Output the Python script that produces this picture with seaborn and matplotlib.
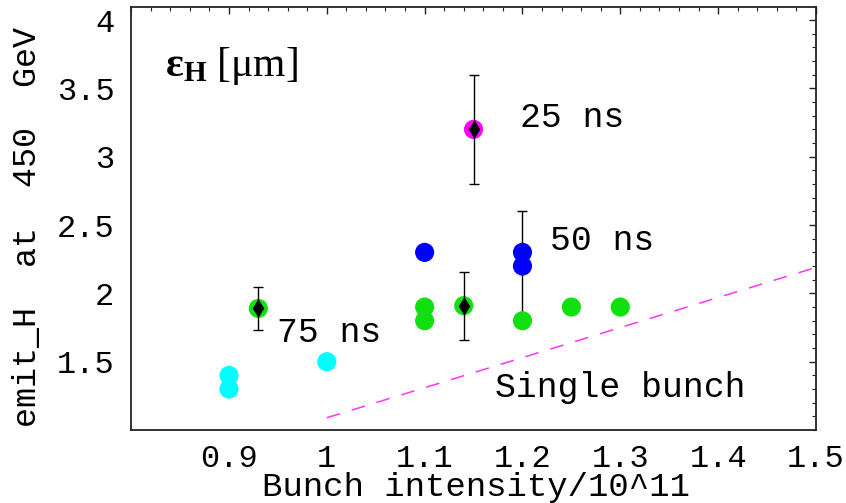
import numpy as np
import pandas as pd
import matplotlib
matplotlib.use("Agg")
import matplotlib.pyplot as plt
import seaborn as sns
from matplotlib.ticker import MultipleLocator, FixedLocator, FuncFormatter

# data
cyan_x = [0.9, 0.9, 1.0]
cyan_y = [1.4, 1.3, 1.5]
green_x = [0.93, 1.1, 1.1, 1.14, 1.2, 1.25, 1.3]
green_y = [1.89, 1.9, 1.8, 1.91, 1.8, 1.9, 1.9]
blue_x = [1.1, 1.2, 1.2]
blue_y = [2.3, 2.3, 2.2]
magenta_x = [1.15]
magenta_y = [3.2]

# error bars (center + symmetric half width)
err_x = [0.93, 1.14, 1.15, 1.2]
err_y = [1.89, 1.91, 3.2, 2.2]
err_half = [0.16, 0.25, 0.4, 0.4]
err_marker = [True, True, True, False]

# single bunch reference line
single_x = [1.0, 1.5]
single_y = [1.09, 2.19]

x_ticks = [0.9, 1.0, 1.1, 1.2, 1.3, 1.4, 1.5]
y_ticks = [1.5, 2.0, 2.5, 3.0, 3.5, 4.0]

sns.set_style("white")
plt.rcParams['font.family'] = ['Liberation Mono', 'DejaVu Sans Mono']
plt.rcParams['mathtext.fontset'] = 'custom'
plt.rcParams['mathtext.rm'] = 'Liberation Serif'
plt.rcParams['mathtext.bf'] = 'Liberation Serif:bold'
plt.rcParams['mathtext.it'] = 'Liberation Serif:italic'

df = pd.DataFrame({
    'intensity': cyan_x + green_x + blue_x + magenta_x,
    'emit': cyan_y + green_y + blue_y + magenta_y,
    'spacing': ['75 ns'] * len(cyan_x) + ['50 ns green'] * len(green_x)
               + ['50 ns'] * len(blue_x) + ['25 ns'] * len(magenta_x),
})
palette = {'75 ns': '#00ffff', '50 ns green': '#10e010',
           '50 ns': '#0000ff', '25 ns': '#ff00ff'}

fig = plt.figure(figsize=(8.46, 5.03), dpi=100)
ax = fig.add_axes([0.155, 0.145, 0.8095, 0.841])

# single bunch dashed line
sns.lineplot(x=single_x, y=single_y, ax=ax, color='#ff33ff', lw=1.1,
             dashes=False, zorder=1)
ax.lines[-1].set_dashes([9, 8])

# 50 ns bar sits below the dots
for xx, yy, hh, mk in zip(err_x, err_y, err_half, err_marker):
    if not mk:
        ax.errorbar(xx, yy, yerr=hh, fmt='none', ecolor='black', elinewidth=1.0,
                    capsize=3.6, capthick=1.0, zorder=2)

sns.scatterplot(data=df, x='intensity', y='emit', hue='spacing', palette=palette,
                s=190, edgecolor='none', legend=False, ax=ax, zorder=3)

for xx, yy, hh, mk in zip(err_x, err_y, err_half, err_marker):
    if mk:
        ax.errorbar(xx, yy, yerr=hh, fmt='d', color='black', ms=8, mec='black',
                    elinewidth=1.0, capsize=3.6, capthick=1.0, zorder=4)

ax.set_xlim(0.8, 1.5)
ax.set_ylim(1.0, 4.095)

ax.xaxis.set_major_locator(FixedLocator(x_ticks))
ax.yaxis.set_major_locator(FixedLocator(y_ticks))
ax.xaxis.set_minor_locator(MultipleLocator(0.02))
ax.yaxis.set_minor_locator(MultipleLocator(0.1))
fmt = FuncFormatter(lambda v, p: '%g' % round(v, 3))
ax.xaxis.set_major_formatter(fmt)
ax.yaxis.set_major_formatter(fmt)

ax.tick_params(which='both', direction='in', top=True, right=True,
               labeltop=False, labelright=False, color='#222222',
               labelcolor='black')
ax.tick_params(which='major', length=5, width=1.0, labelsize=23)
ax.tick_params(which='minor', length=3, width=0.8)
ax.tick_params(axis='x', which='major', pad=10)
ax.tick_params(axis='y', which='major', pad=12)

for sp in ax.spines.values():
    sp.set_linewidth(1.3)
    sp.set_color('#222222')

ax.set_xlabel('Bunch intensity/10^11', fontsize=24.5, color='black')
ax.set_ylabel('emit_H  at  450  GeV', fontsize=24, color='black')
ax.xaxis.set_label_coords(0.504, -0.135)
ax.xaxis.label.set_va('center')
ax.yaxis.set_label_coords(-0.152, 0.48)
ax.yaxis.label.set_va('center')

ax.text(0.835, 3.66, r'$\mathbf{ε_H}\ [\mathrm{μm}]$', fontsize=30,
        ha='left', va='center', color='black')
ax.text(1.197, 3.29, '25 ns', fontsize=25, ha='left', va='center', color='black')
ax.text(1.228, 2.39, '50 ns', fontsize=25, ha='left', va='center', color='black')
ax.text(0.949, 1.715, '75 ns', fontsize=25, ha='left', va='center', color='black')
ax.text(1.172, 1.31, 'Single bunch', fontsize=25, ha='left', va='center', color='black')

fig.savefig('out.png', dpi=100)
